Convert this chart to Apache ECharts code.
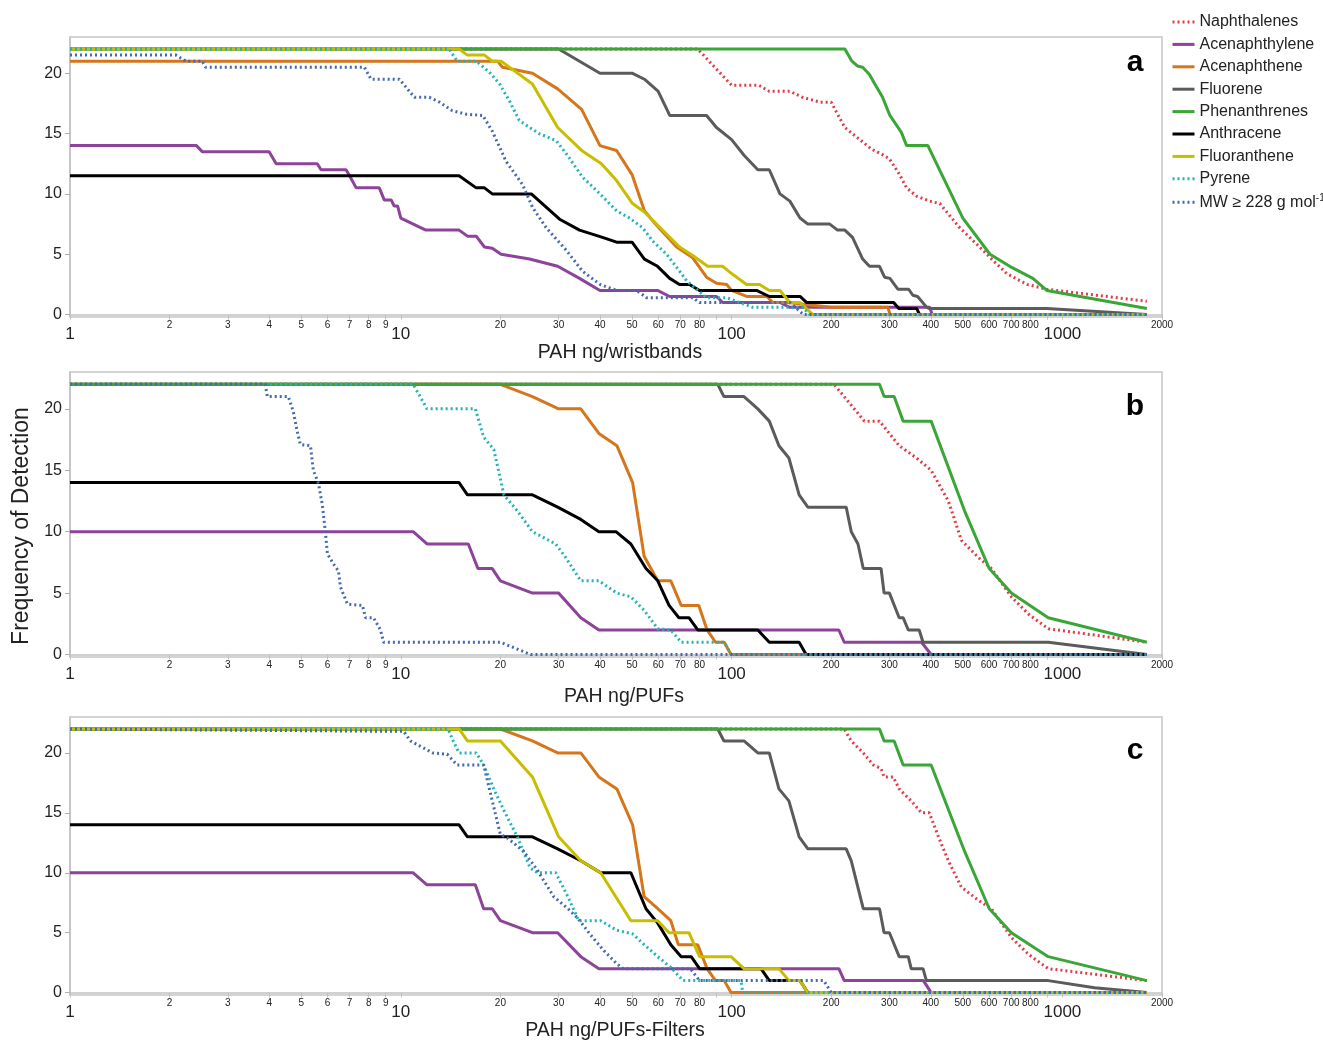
<!DOCTYPE html>
<html>
<head>
<meta charset="utf-8">
<script src="https://cdn.jsdelivr.net/npm/echarts@6/dist/echarts.min.js"></script>
<style>
html, body { margin: 0; padding: 0; background: #fff; }
#chart { width: 1323px; height: 1041px; }
</style>
</head>
<body>
<div id="chart"></div>
<script>
var myChart = echarts.init(document.getElementById('chart'));

// series names, colours, dotted or not
var names = ['Naphthalenes', 'Acenaphthylene', 'Acenaphthene', 'Fluorene', 'Phenanthrenes',
             'Anthracene', 'Fluoranthene', 'Pyrene', 'MW ≥ 228 g mol-1'];
var colors = ['#e23c48', '#8c4399', '#d5761b', '#5b5b5b', '#3aa637', '#000000', '#c9bd00', '#21b3b6', '#4468b2'];
var dotted = [true, false, false, false, false, false, false, true, true];

var xTicks = [1, 2, 3, 4, 5, 6, 7, 8, 9, 10, 20, 30, 40, 50, 60, 70, 80, 90,
              100, 200, 300, 400, 500, 600, 700, 800, 900, 1000, 2000];
var yTicks = [0, 5, 10, 15, 20];

// panel a : wristbands  [ng, frequency]
var naphA = [[1,22],[79,22],[100,19],[121,19],[130,18.5],[150,18.5],[164,18],[185,17.6],[200,17.6],[212,16.3],[220,15.5],[244,14.5],[265,13.7],[284,13.3],[300,12.9],[322,11.6],[338,10.5],[363,9.8],[397,9.4],[426,9.2],[489,7.2],[562,5.6],[616,4.5],[679,3.4],[781,2.5],[897,2.1],[1800,1.1]];
var acylA = [[1,14],[2.41,14],[2.51,13.5],[4,13.5],[4.2,12.5],[5.59,12.5],[5.74,12],[6.83,12],[7,11.5],[7.33,10.5],[8.61,10.5],[8.91,9.5],[9.35,9.5],[9.55,9],[9.78,9],[10,8],[11.9,7],[15,7],[15.9,6.5],[16.9,6.5],[17.9,5.6],[18.9,5.5],[20.1,5],[24.5,4.6],[29.8,4],[34.7,3],[40,2],[59.7,2],[65,1.5],[90,1.5],[94,1],[140,1],[150,0.6],[397,0.6],[404,0],[1800,0]];
var acenA = [[1,21],[19.6,21],[20.3,20.5],[25,20],[29.8,18.7],[35.2,17],[40,14],[44.9,13.6],[50,11.6],[54.5,8.6],[59.3,7.4],[68.2,5.6],[76.3,4.7],[84,3.1],[90,2.6],[96.6,2.5],[100,2],[111,1.5],[128,1.5],[133,1],[148,1],[200,0.6],[297,0.6],[301,0],[1800,0]];
var fluoA = [[1,22],[30,22],[40,20],[50,20],[54.5,19.5],[60,18.5],[65,16.5],[84,16.5],[90,15.5],[100,14.5],[109,13.2],[120,12],[130,12],[140,10],[150,9.4],[161,8],[170,7.5],[198,7.5],[209,7],[220,7],[232,6.4],[249,4.6],[261,4],[280,4],[290,3.1],[301,3],[318,2.1],[343,2.1],[353,1.6],[365,1.5],[389,0.6],[397,0.5],[897,0.5],[1800,0]];
var phenA = [[1,22],[220,22],[231,21],[240,20.6],[249,20.5],[261,19.9],[271,19.1],[286,18],[301,16.5],[326,15.1],[338,14],[392,14],[500,8],[604,5],[693,4],[814,3],[897,2],[1800,0.5]];
var anthA = [[1,11.5],[15,11.5],[16.9,10.5],[17.9,10.5],[18.9,10],[24.8,10],[30.2,7.9],[34.7,7],[40.7,6.4],[44.9,6],[50,6],[54.5,4.6],[59.7,4],[65,3],[69.6,2.5],[74.6,2.5],[80,2],[119,2],[130,1.5],[161,1.5],[168.7,1],[309,1],[320,0.5],[363,0.5],[370,0],[1800,0]];
var fltnA = [[1,22],[15,22],[15.9,21.5],[17.9,21.5],[18.9,21],[20.1,21],[25,19.1],[29.8,15.5],[35.2,13.6],[40.4,12.5],[44.9,11.1],[50.2,9.2],[54.5,8.5],[59.3,7.5],[69.6,5.6],[76.3,4.9],[84.6,4],[94,4],[100,3.4],[111,2.5],[121.5,2.5],[130,2],[140,2],[150,1],[161,1],[176,0],[1800,0]];
var pyrA = [[1,22],[14,22],[14.8,21],[16.9,21],[18.5,20.1],[19.9,19.1],[21.3,17.7],[22.8,16.1],[24.5,15.5],[26.2,15],[29.5,14.4],[31.7,13.3],[35.4,11.4],[40,10],[44.9,8.6],[49.1,8],[53.8,7.2],[57.7,6.1],[63.6,5],[69.6,3.6],[73.1,2.8],[78.3,2.1],[84,1.4],[96.6,1.4],[105.7,1],[115.8,0.6],[164,0.6],[172,0],[1800,0]];
var mwA = [[1,21.5],[2.09,21.5],[2.24,21],[2.51,21],[2.57,20.5],[7.76,20.5],[8.13,19.5],[9.9,19.5],[11,18],[12.2,18],[13.1,17.6],[14.3,16.9],[15.8,16.6],[17.7,16.5],[18.9,15.2],[20.8,12.7],[23.3,10.8],[25,8.9],[27.5,7.2],[31.7,5.3],[35.4,3.6],[40,2.5],[44.9,2],[51.6,2],[55.3,1.4],[76.3,1.4],[80,1],[150,1],[165,0],[1800,0]];

// panel b : PUFs (no fluoranthene)
var naphB = [[1,22],[204,22],[252,19],[280,19],[321,17],[362,16],[401,15],[452,12.5],[495,9.3],[557,7.9],[610,7],[701,4.7],[789,3.3],[906,2.1],[1800,1]];
var acylB = [[1,10],[10.9,10],[12,9],[16,9],[17.1,7],[18.9,7],[20,6],[25,5],[30,5],[35,3],[39.7,2],[211,2],[219,1],[375,1],[401,0],[1800,0]];
var acenB = [[1,22],[20,22],[25,21],[30,20],[35,20],[39.7,18],[45,17],[50.2,14],[54.4,8],[59.8,6],[65.5,6],[70.4,4],[79.6,4],[84.3,2],[89.4,1],[95,1],[99.6,0],[1800,0]];
var fluoB = [[1,22],[90.8,22],[94.8,21],[109,21],[120,20],[130,19],[139,17],[149,16],[160,13],[170,12],[222,12],[230,10],[241,9],[250,7],[283,7],[289,5],[300,5],[321,3],[330,3],[342,2],[369,2],[379,1],[906,1],[1800,0]];
var phenB = [[1,22],[280,22],[289,21],[310,21],[330,19],[401,19],[506,11.7],[601,7],[701,5],[906,3],[1800,1]];
var anthB = [[1,14],[15,14],[15.9,13],[25,13],[29.8,12],[35,11],[39.7,10],[44.7,10],[49.6,9],[55.1,7],[59.8,6],[64.7,4],[69.3,3],[74.3,3],[79,2],[120,2],[130,1],[160,1],[168,0],[1800,0]];
var pyrB = [[1,22],[10.9,22],[12,20],[16.8,20],[17.8,17.7],[19.1,16.7],[20.5,13],[22.5,11.7],[25,10],[29.4,9],[31.5,7.9],[35,6],[39.7,6],[45,5],[49.6,4.7],[54.4,3.6],[59.8,2.1],[65.5,2],[70.4,1],[95,1],[99.6,0],[1800,0]];
var mwB = [[1,22],[3.89,22],[3.95,21],[4.57,21],[4.73,19.8],[4.86,18.2],[4.97,17.1],[5.33,17],[5.44,15],[5.64,13.9],[5.79,12.2],[5.91,10.1],[6,8.2],[6.25,7.4],[6.48,6.8],[6.57,5.5],[6.9,4.1],[7.66,4],[7.82,3],[8.27,3],[8.68,2],[8.87,1],[20,1],[24.7,0],[1800,0]];

// panel c : PUFs-Filters
var naphC = [[1,22],[219,22],[230,21],[250,20],[268,19],[283,18.7],[289,18],[308,18],[321,17],[349,16],[375,15],[396,15],[422,13],[452,11],[495,8.8],[557,7.7],[610,7],[701,4.6],[789,3.2],[906,2],[1800,1]];
var acylC = [[1,10],[10.9,10],[12,9],[16.8,9],[17.8,7],[18.9,7],[20,6],[25,5],[29.8,5],[35,3],[39.7,2],[211,2],[219,1],[380,1],[401,0],[1800,0]];
var acenC = [[1,22],[20,22],[25,21],[29.8,20],[35,20],[39.7,18],[45,17],[50.2,14],[54.4,8],[59.8,7],[65.5,6],[69,4],[79,4],[84.3,2],[89.4,1],[95,1],[99.6,0],[1800,0]];
var fluoC = [[1,22],[90.8,22],[94.8,21],[109,21],[120,20],[130,20],[139,17],[149,16],[160,13],[170,12],[222,12],[230,11],[250,7],[280,7],[289,5],[300,5],[321,3],[342,3],[349,2],[379,2],[388,1],[906,1],[1250,0.4],[1800,0]];
var phenC = [[1,22],[280,22],[289,21],[310,21],[330,19],[401,19],[506,11.8],[601,7],[701,5],[906,3],[1800,1]];
var anthC = [[1,14],[15,14],[15.9,13],[25,13],[29.8,12],[35,11],[40.2,10],[49.6,10],[55.1,7],[59.8,5.8],[65.5,4],[70.4,3],[75.5,3],[80,2],[122.7,2],[130,1],[161,1],[170,0],[1800,0]];
var fltnC = [[1,22],[15,22],[15.9,21],[20,21],[25,18],[30,13],[35,11],[40.2,10],[49.6,6],[59.8,6],[64.7,5],[74.3,5],[80,3],[99.6,3],[109,2],[139,2],[149,1],[161,1],[170,0],[1800,0]];
var pyrC = [[1,22],[13.9,22],[14.4,21],[15,20],[16.9,20],[17.8,19],[19.1,17],[20.5,15.2],[22.5,13],[24.6,10.4],[25.9,10],[29.4,10],[32,8],[34.5,6],[40.2,6],[45,5.2],[50.2,4.9],[54.4,4],[59.8,3],[65.5,2.1],[71.3,1],[106.8,1],[108,0],[1800,0]];
var mwC = [[1,22],[10.2,21.8],[10.7,21],[12.5,20],[13.8,19.9],[14.8,19],[17.8,19],[18.9,16],[20,13.2],[21,12.9],[23.5,11.8],[25.9,10.2],[29,8],[32,7],[34.3,6.2],[37.5,4.8],[41.1,3.5],[45,2.4],[47,2],[75,2],[80,1],[190,1],[200,0],[1800,0]];

var panels = [
    [naphA, acylA, acenA, fluoA, phenA, anthA, fltnA, pyrA, mwA],
    [naphB, acylB, acenB, fluoB, phenB, anthB, null, pyrB, mwB],
    [naphC, acylC, acenC, fluoC, phenC, anthC, fltnC, pyrC, mwC]
];
var xTitles = ['PAH ng/wristbands', 'PAH ng/PUFs', 'PAH ng/PUFs-Filters'];
var letters = ['a', 'b', 'c'];

var grids = [
    {left: 70, top: 37, width: 1092, height: 280},
    {left: 70, top: 372, width: 1092, height: 285},
    {left: 70, top: 717, width: 1092, height: 278}
];

var xAxes = [], yAxes = [], series = [], graphics = [];
var big = [1, 10, 100, 1000];

for (let p = 0; p < 3; p++) {
    grids[p].show = true;
    grids[p].borderColor = '#c6c6c6';
    grids[p].borderWidth = 1.5;
    grids[p].containLabel = false;

    xAxes.push({
        gridIndex: p, type: 'log', logBase: 10, min: 1, max: 2000,
        axisLine: {show: true, lineStyle: {color: '#c2c2c2', width: 1.5}},
        axisTick: {show: true, customValues: xTicks, length: 5, lineStyle: {color: '#c2c2c2'}},
        minorTick: {show: false},
        splitLine: {show: false},
        axisLabel: {
            customValues: xTicks, margin: 3, color: '#222', fontFamily: 'Arial',
            formatter: function (v) {
                var r = Math.round(v);
                if (big.indexOf(r) >= 0) return '{big|' + r + '}';
                if (r == 90 || r == 900) return '';
                return '{sm|' + r + '}';
            },
            rich: {
                big: {fontSize: 17, color: '#222', padding: [6, 0, 0, 0]},
                sm: {fontSize: 10, color: '#222'}
            }
        }
    });
    yAxes.push({
        gridIndex: p, type: 'value', min: -0.2, max: 23,
        axisLine: {show: true, lineStyle: {color: '#c2c2c2', width: 1.5}},
        axisTick: {show: true, customValues: yTicks, length: 5, lineStyle: {color: '#b0b0b0'}},
        splitLine: {show: false},
        axisLabel: {customValues: yTicks, margin: 8, fontSize: 16, color: '#222', fontFamily: 'Arial'}
    });

    for (let s = 0; s < names.length; s++) {
        var d = panels[p][s];
        if (!d) continue;
        series.push({
            name: names[s], type: 'line', xAxisIndex: p, yAxisIndex: p,
            data: d, symbol: 'none', animation: false,
            color: colors[s],
            lineStyle: {color: colors[s], width: 3, type: dotted[s] ? [2, 3] : 'solid'},
            z: 2 + s
        });
    }

    graphics.push({
        type: 'text', x: 1135, y: [63, 407, 751][p],
        style: {text: letters[p], font: 'bold 30px Arial', fill: '#000', textAlign: 'center', textVerticalAlign: 'middle'}
    });
    graphics.push({
        type: 'text', x: [620, 624, 615][p], y: [353, 697, 1031][p],
        style: {text: xTitles[p], font: '19.5px Arial', fill: '#222', textAlign: 'center', textVerticalAlign: 'middle'}
    });
}

graphics.push({
    type: 'text', x: 22, y: 526, rotation: Math.PI / 2,
    style: {text: 'Frequency of Detection', font: '23px Arial', fill: '#222', textAlign: 'center', textVerticalAlign: 'middle'}
});

var option = {
    backgroundColor: '#fff',
    animation: false,
    grid: grids,
    xAxis: xAxes,
    yAxis: yAxes,
    legend: {
        data: names, orient: 'vertical', left: 1166, top: 9,
        itemWidth: 22, itemHeight: 14, itemGap: 6.4, selectedMode: false,
        itemStyle: {opacity: 0},
        lineStyle: {width: 3},
        textStyle: {fontSize: 16, color: '#222', fontFamily: 'Arial',
            rich: {sup: {fontSize: 10, color: '#222', padding: [0, 0, 8, 0]}}},
        formatter: function (n) {
            if (n.indexOf('MW') === 0) return 'MW ≥ 228 g mol{sup|-1}';
            return n;
        }
    },
    graphic: graphics,
    series: series
};
myChart.setOption(option);
</script>
</body>
</html>
